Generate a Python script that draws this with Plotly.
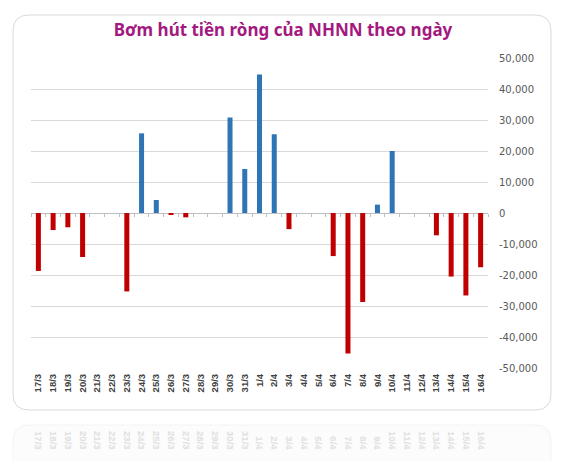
import numpy as np
import plotly.graph_objects as go

dates = ["17/3", "18/3", "19/3", "20/3", "21/3", "22/3", "23/3", "24/3", "25/3", "26/3",
         "27/3", "28/3", "29/3", "30/3", "31/3", "1/4", "2/4", "3/4", "4/4", "5/4",
         "6/4", "7/4", "8/4", "9/4", "10/4", "11/4", "12/4", "13/4", "14/4", "15/4", "16/4"]
values = [-18700, -5500, -4600, -14200, 0, 0, -25300, 25700, 4200, -500,
          -1400, 0, 0, 30800, 14200, 44700, 25400, -5200, 0, 0,
          -13900, -45300, -28700, 2700, 20000, 0, 0, -7200, -20500, -26600, -17500]
ytickvals = [-50000, -40000, -30000, -20000, -10000, 0, 10000, 20000, 30000, 40000, 50000]
yticktext = ["-50,000", "-40,000", "-30,000", "-20,000", "-10,000", "0",
             "10,000", "20,000", "30,000", "40,000", "50,000"]
title = "Bơm hút tiền ròng của NHNN theo ngày"

# page has an 8px body margin; work in page pixel coordinates and convert
OFF = 8
PAGE_W, PAGE_H = 568, 461
W, H = PAGE_W - OFF, PAGE_H - OFF
PLOT_L, PLOT_R, PLOT_T, PLOT_B = 31, 488, 58, 368
ML = PLOT_L - OFF
MR = PAGE_W - PLOT_R
MT = PLOT_T - OFF
MB = 0
pw = W - ML - MR
ph = H - MT - MB
ydom0 = (PAGE_H - PLOT_B) / ph


def px_x(x):
    return (x - PLOT_L) / pw


def px_y(y):
    return (PAGE_H - y) / ph


colors = ["#2E75B6" if v > 0 else "#C00000" for v in values]
n = len(dates)
idx = list(range(n))

fig = go.Figure()
fig.add_trace(go.Bar(x=idx, y=values, marker=dict(color=colors, line=dict(width=0)),
                     width=0.34, hoverinfo="x+y"))


def rounded_rect(x0, y0, x1, y1, r):
    rx = r / pw
    ry = r / ph
    X0, X1 = px_x(x0), px_x(x1)
    Y0, Y1 = px_y(y1), px_y(y0)  # bottom, top in paper
    return (f"M {X0+rx},{Y1} L {X1-rx},{Y1} Q {X1},{Y1} {X1},{Y1-ry} "
            f"L {X1},{Y0+ry} Q {X1},{Y0} {X1-rx},{Y0} L {X0+rx},{Y0} "
            f"Q {X0},{Y0} {X0},{Y0+ry} L {X0},{Y1-ry} Q {X0},{Y1} {X0+rx},{Y1} Z")


shapes = [
    dict(type="path", xref="paper", yref="paper", path=rounded_rect(13, 15, 551, 410, 16),
         line=dict(color="#DADADA", width=1), fillcolor="white", layer="below"),
    dict(type="path", xref="paper", yref="paper", path=rounded_rect(13, 425, 551, 500, 16),
         line=dict(color="#F3F3F3", width=1), fillcolor="rgba(250,250,250,0.6)", layer="below"),
]

fig.update_layout(
    width=W, height=H,
    margin=dict(l=ML, r=MR, t=MT, b=MB, autoexpand=False),
    paper_bgcolor="white", plot_bgcolor="rgba(0,0,0,0)",
    showlegend=False,
    bargap=0.66,
    shapes=shapes,
    title=dict(text=f"<b>{title}</b>", x=(283 - OFF) / W, xref="container", xanchor="center",
               y=1 - (30 - OFF) / H, yref="container", yanchor="middle",
               font=dict(family="Noto Sans", size=17, color="#A3197F")),
    xaxis=dict(
        type="linear", range=[-0.5, n - 0.5], domain=[0, 1],
        tickmode="array", tickvals=idx, ticktext=dates, tickangle=-90,
        tickfont=dict(family="Liberation Sans", size=9.5, color="#404040", weight="bold"),
        showgrid=False, zeroline=False, showline=False, ticks="", automargin=False,
        ticklabelstandoff=3, anchor="y",
    ),
    xaxis2=dict(
        type="linear", range=[-0.5, n - 0.5], overlaying="x", anchor="free",
        position=px_y(213), tickmode="array", tickvals=list(np.arange(n + 1) - 0.5),
        ticks="outside", ticklen=3, tickcolor="#BFBFBF", showticklabels=False,
        showgrid=False, zeroline=False, showline=False, automargin=False,
    ),
    xaxis3=dict(
        type="linear", range=[-0.5, n - 0.5], overlaying="x", anchor="free",
        position=px_y(451), side="top", tickmode="array", tickvals=idx, ticktext=dates,
        tickangle=90, tickfont=dict(family="Liberation Sans", size=9.5, color="#E0E0E0",
                                    weight="bold"),
        ticks="", showgrid=False, zeroline=False, showline=False, automargin=False,
    ),
    yaxis=dict(
        domain=[ydom0, 1], range=[-50000, 50000], side="right",
        tickmode="array", tickvals=ytickvals, ticktext=yticktext,
        tickfont=dict(family="DejaVu Sans", size=10, color="#595959"),
        showgrid=True, gridcolor="#D9D9D9", gridwidth=1,
        zeroline=True, zerolinecolor="#BFBFBF", zerolinewidth=1,
        showline=False, ticks="", ticklabelstandoff=10, automargin=False,
    ),
)
# invisible traces to activate the auxiliary axes
fig.add_trace(go.Scatter(x=[0], y=[0], xaxis="x2", yaxis="y", mode="markers",
                         marker=dict(opacity=0), hoverinfo="skip"))
fig.add_trace(go.Scatter(x=[0], y=[0], xaxis="x3", yaxis="y", mode="markers",
                         marker=dict(opacity=0), hoverinfo="skip"))

fig.write_html("out.html")
